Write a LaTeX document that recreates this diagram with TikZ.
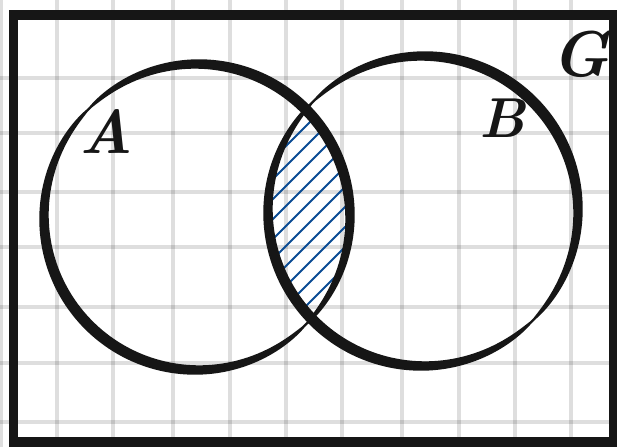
\documentclass[tikz,border=0pt]{standalone}
\usepackage{xcolor}
\definecolor{hatchblue}{HTML}{0B4C94}
\definecolor{ink}{HTML}{161616}
\newcommand\brushring[3]{\fill[ink,shift={(#1,#2)},even odd rule]
 plot[domain=0:360,samples=181](\x:{#3+.5+5*sqrt(abs(sin(\x-135)))})--cycle
 plot[domain=0:360,samples=181](\x:{#3-.5-5*sqrt(abs(sin(\x-135)))})--cycle;}

\begin{document}
\begin{tikzpicture}[x=0.025cm,y=0.025cm,grid/.style={line width=2.8pt,black,opacity=.13},
 hatch/.style={line width=1.4pt,hatchblue,line cap=round},
 lbl/.style={ink,font=\bfseries\itshape}]
\useasboundingbox(0,0)rectangle(617,447);
\fill[white](0,0)rectangle(617,447);
\foreach \gx in {1,57,113,173,230,286,342,402,459,515,571}\draw[grid](\gx,0)--(\gx,447);
\foreach \gy in {25,84,140,200,255,314,369}\draw[grid](0,\gy)--(617,\gy);
\begin{scope}
\clip(197,230)circle[radius=153];
\clip(423,236)circle[radius=155];
\foreach \c in {-185,-165,...,35}\draw[hatch](240,240+\c)--(380,380+\c);
\end{scope}
\brushring{197}{230}{153}
\brushring{423}{236}{155}
\draw[ink,line width=6.7pt,line join=miter](13.5,5)rectangle(613.5,432);
\node[lbl,font=\fontsize{44}{44}\selectfont\bfseries\itshape] at(106,315)(a){A};
\node[lbl,font=\fontsize{40}{40}\selectfont\bfseries\itshape] at(502,329)(b){B};
\node[lbl,font=\fontsize{46}{46}\selectfont\bfseries\itshape] at(580,393)(g){G};
\end{tikzpicture}
\end{document}
